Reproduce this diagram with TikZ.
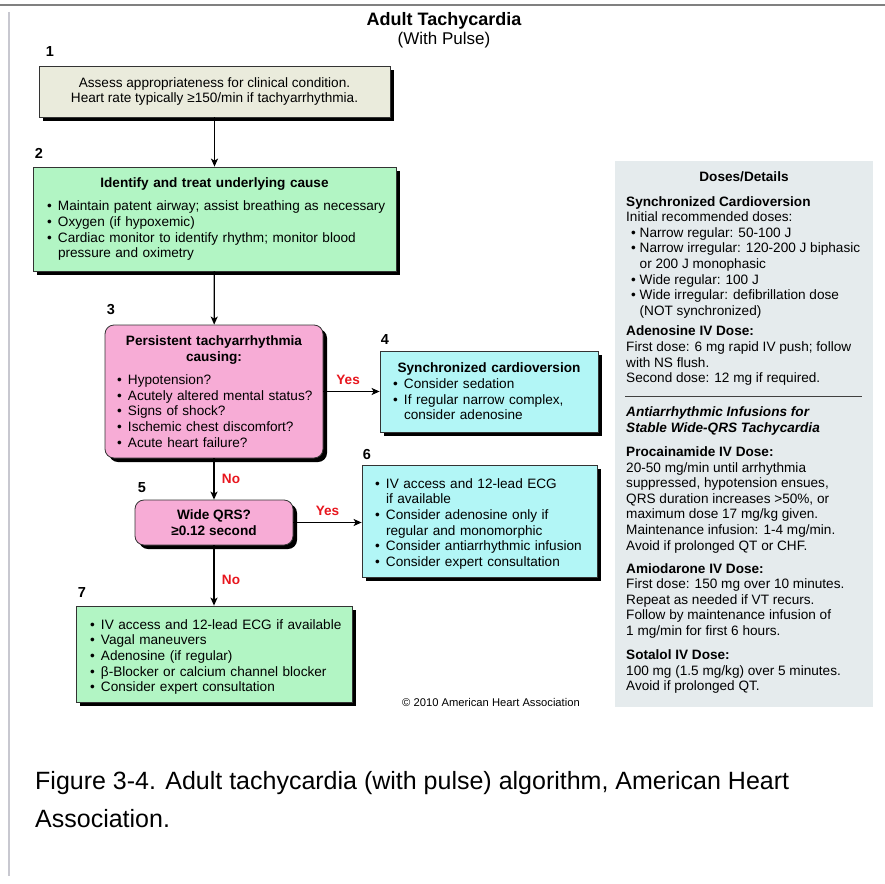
\documentclass[tikz,border=0pt]{standalone}
\usepackage{fontspec}
\setmainfont{Liberation Sans}
\newfontfamily\capfont{Liberation Sans}
\usetikzlibrary{arrows.meta,shadows}

\definecolor{assessfill}{RGB}{234,235,220}
\definecolor{greenfill}{RGB}{178,245,196}
\definecolor{pinkfill}{RGB}{247,172,214}
\definecolor{cyanfill}{RGB}{178,246,246}
\definecolor{panelfill}{RGB}{229,235,237}
\definecolor{yesnored}{RGB}{232,22,30}
\definecolor{frameline}{RGB}{128,128,128}
\definecolor{sideline}{RGB}{200,200,208}

\newcommand{\bul}{\makebox[11pt][l]{\textbullet}}
\newcommand{\ind}{\hspace*{11pt}}
\newcommand{\itm}[1]{\par\noindent\mbox{\bul#1}}
\newcommand{\cnt}[1]{\par\noindent\mbox{\ind#1}}
\newcommand{\pbul}{\hspace*{5pt}\makebox[8.5pt][l]{\textbullet}}
\newcommand{\pind}{\hspace*{13.5pt}}

\tikzset{
	txt/.style={font=\fontsize{13.6}{15.7}\selectfont},
	flowbox/.style={txt, draw=black!80, line width=0.8pt, inner ysep=2pt,
		drop shadow={shadow xshift=4pt, shadow yshift=-4pt, fill=black, opacity=1}},
	assessbox/.style={flowbox, fill=assessfill, align=center},
	greenbox/.style={flowbox, fill=greenfill},
	pinkbox/.style={flowbox, fill=pinkfill, rounded corners=9pt},
	cyanbox/.style={flowbox, fill=cyanfill},
	stepnum/.style={font=\fontsize{14.5}{14.5}\selectfont\bfseries, inner sep=0pt},
	yesno/.style={font=\fontsize{13.6}{14}\selectfont\bfseries, text=yesnored},
	flow/.style={line width=1.3pt, -{Stealth[length=8pt,width=7pt,inset=2pt]}},
	panelbox/.style={fill=panelfill, inner sep=0pt, minimum width=258pt, minimum height=546pt},
	panelhead/.style={font=\fontsize{13.6}{15.6}\selectfont\bfseries},
}

\begin{document}
\begin{tikzpicture}[x=1pt, y=-1pt]
	\useasboundingbox (0,0) rectangle (885,883);
	\fill[white] (0,0) rectangle (885,883);
	\draw[frameline, line width=2pt] (0,5) -- (885,5);
	\draw[sideline, line width=2pt] (9,12) -- (9,876);

	% title
	\node[font=\fontsize{18}{18}\selectfont\bfseries, anchor=base] (title) at (444,26) {Adult Tachycardia};
	\node[font=\fontsize{17}{17}\selectfont, anchor=base] (subtitle) at (444,45) {(With Pulse)};

	% flow chart
	\node[assessbox, minimum width=351pt, minimum height=51pt] (assess) at (214.5,91.5)
		{Assess appropriateness for clinical condition.\\Heart rate typically ≥150/min if tachyarrhythmia.};
	\node[greenbox, inner xsep=14pt, text width=335pt, minimum width=363pt, minimum height=104pt] (treat) at (214.5,219)
		{{\centering\bfseries Identify and treat underlying cause\par}\vspace{8pt}
		\itm{Maintain patent airway; assist breathing as necessary}
		\itm{Oxygen (if hypoxemic)}
		\itm{Cardiac monitor to identify rhythm; monitor blood}
		\cnt{pressure and oximetry}};
	\node[pinkbox, inner xsep=12pt, text width=194pt, minimum width=218pt, minimum height=133pt] (persist) at (214,391.5)
		{{\centering\bfseries Persistent tachyarrhythmia\\causing:\par}\vspace{7.5pt}
		\itm{Hypotension?}
		\itm{Acutely altered mental status?}
		\itm{Signs of shock?}
		\itm{Ischemic chest discomfort?}
		\itm{Acute heart failure?}};
	\node[cyanbox, inner xsep=13pt, text width=192pt, minimum width=218pt, minimum height=81pt] (cardio) at (489,391.5)
		{{\centering\bfseries Synchronized cardioversion\par}
		\itm{Consider sedation}
		\itm{If regular narrow complex,}
		\cnt{consider adenosine}};
	\node[pinkbox, align=center, font=\fontsize{13.6}{15.7}\selectfont\bfseries, minimum width=158pt, minimum height=45pt] (widecheck) at (214,522.5)
		{Wide QRS?\\≥0.12 second};
	\node[cyanbox, inner xsep=13pt, text width=209pt, minimum width=235pt, minimum height=112pt] (wideyes) at (479.5,521)
		{\itm{IV access and 12-lead ECG}
		\cnt{if available}
		\itm{Consider adenosine only if}
		\cnt{regular and monomorphic}
		\itm{Consider antiarrhythmic infusion}
		\itm{Consider expert consultation}};
	\node[greenbox, inner xsep=14pt, text width=248pt, minimum width=276pt, minimum height=96pt] (narrow) at (214,654)
		{\itm{IV access and 12-lead ECG if available}
		\itm{Vagal maneuvers}
		\itm{Adenosine (if regular)}
		\itm{β-Blocker or calcium channel blocker}
		\itm{Consider expert consultation}};

	\node[stepnum] (n1) at (50,52) {1};
	\node[stepnum] (n2) at (39,153) {2};
	\node[stepnum] (n3) at (111,310) {3};
	\node[stepnum] (n4) at (385,340) {4};
	\node[stepnum] (n5) at (142,488) {5};
	\node[stepnum] (n6) at (367,455) {6};
	\node[stepnum] (n7) at (82,593) {7};

	\draw[flow] (assess) -- (treat);
	\draw[flow] (treat) -- (persist);
	\draw[flow] (persist) -- node[yesno, above=3pt, pos=.44] {Yes} (cardio);
	\draw[flow] (persist) -- node[yesno, right=4pt] {No} (widecheck);
	\draw[flow] (widecheck.east) -- node[yesno, above=3pt] {Yes} (widecheck.east -| wideyes.west);
	\draw[flow] (widecheck) -- node[yesno, right=4pt, pos=.57] {No} (narrow);

	\node[font=\fontsize{11.2}{12}\selectfont, anchor=base] (copyr) at (491,706) {© 2010 American Heart Association};

	% doses panel
	\node[panelbox] (doses) at (744,434) {};
	\node[panelhead] (dosehead) at (744,177) {Doses/Details};
	\node[txt, font=\fontsize{13.6}{15.6}\selectfont, anchor=north west, inner sep=0pt, align=left] (dosetext) at (626,196)
		{\textbf{Synchronized Cardioversion}\\
		Initial recommended doses:\\
		\pbul Narrow regular: 50-100 J\\
		\pbul Narrow irregular: 120-200 J biphasic\\
		\pind or 200 J monophasic\\
		\pbul Wide regular: 100 J\\
		\pbul Wide irregular: defibrillation dose\\
		\pind (NOT synchronized)\\[5pt]
		\textbf{Adenosine IV Dose:}\\
		First dose: 6 mg rapid IV push; follow\\
		with NS flush.\\
		Second dose: 12 mg if required.\\[18.5pt]
		\textbf{\itshape Antiarrhythmic Infusions for}\\
		\textbf{\itshape Stable Wide-QRS Tachycardia}\\[8.5pt]
		\textbf{Procainamide IV Dose:}\\
		20-50 mg/min until arrhythmia\\
		suppressed, hypotension ensues,\\
		QRS duration increases >50\%, or\\
		maximum dose 17 mg/kg given.\\
		Maintenance infusion: 1-4 mg/min.\\
		Avoid if prolonged QT or CHF.\\[7.5pt]
		\textbf{Amiodarone IV Dose:}\\
		First dose: 150 mg over 10 minutes.\\
		Repeat as needed if VT recurs.\\
		Follow by maintenance infusion of\\
		1 mg/min for first 6 hours.\\[8.5pt]
		\textbf{Sotalol IV Dose:}\\
		100 mg (1.5 mg/kg) over 5 minutes.\\
		Avoid if prolonged QT.};
	\draw[black!75, line width=0.8pt] (625,396) -- (862,396);

	% caption
	\node[font=\capfont\fontsize{25}{38}\selectfont, anchor=base west, inner sep=0pt] (cap1) at (35,789)
		{Figure 3-4. Adult tachycardia (with pulse) algorithm, American Heart};
	\node[font=\capfont\fontsize{25}{38}\selectfont, anchor=base west, inner sep=0pt] (cap2) at (35,827)
		{Association.};
\end{tikzpicture}
\end{document}
